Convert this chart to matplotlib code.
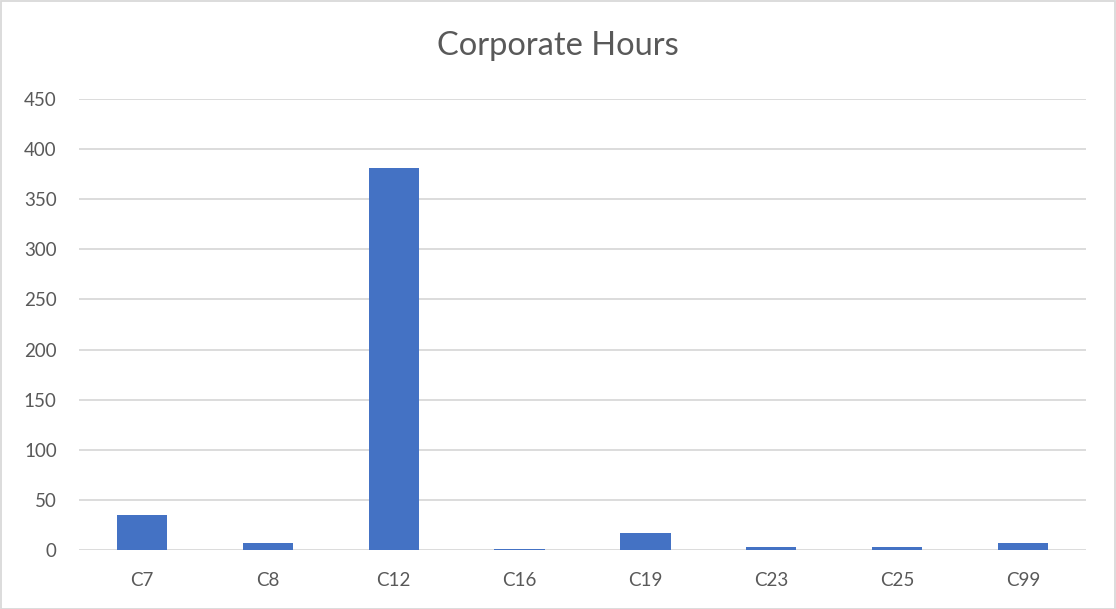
import matplotlib.pyplot as plt
from matplotlib.patches import Rectangle

categories = ["C7", "C8", "C12", "C16", "C19", "C23", "C25", "C99"]
hours = [35, 7, 381, 0.5, 17, 2.5, 2.5, 7]
yticks = [0, 50, 100, 150, 200, 250, 300, 350, 400, 450]

text_col = "#595959"
grid_col = "#d9d9d9"
plt.rcParams["font.family"] = ["Lato", "DejaVu Sans"]

fig = plt.figure(figsize=(11.16, 6.09), dpi=100)
ax = fig.add_axes([79/1116, 59/609, 1007/1116, 451/609])

ax.bar(range(len(categories)), hours, width=0.4, color="#4472C4", zorder=3)
ax.set_xlim(-0.5, len(categories) - 0.5)
ax.set_ylim(0, 450)
ax.set_yticks(yticks)
ax.set_xticks(range(len(categories)))
ax.set_xticklabels(categories)
ax.yaxis.grid(True, color=grid_col, linewidth=1.3, zorder=0)
ax.set_axisbelow(True)
for s in ax.spines.values():
    s.set_visible(False)
ax.tick_params(axis="both", length=0, labelsize=13.5, colors=text_col)
ax.tick_params(axis="y", pad=16)
ax.tick_params(axis="x", pad=16)

fig.text(0.5, 1 - 46/609, "Corporate Hours", ha="center", va="center",
         fontsize=23.5, color=text_col)

# outer chart border
fig.patches.append(Rectangle((0.5/1116, 0.5/609), 1 - 1.5/1116, 1 - 1.5/609,
                             transform=fig.transFigure, fill=False,
                             edgecolor=grid_col, linewidth=1.3))

fig.savefig("out.png", dpi=100)
